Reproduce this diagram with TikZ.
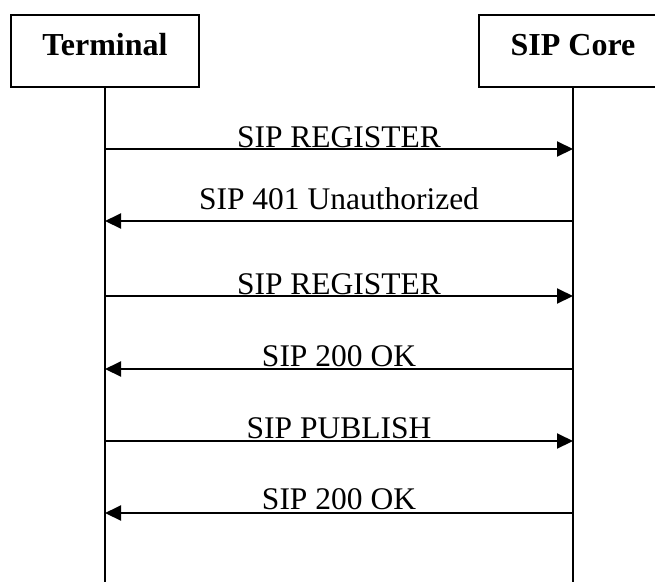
\documentclass[tikz,border=0pt]{standalone}
\usepackage{fontspec}
\setmainfont{Liberation Serif}
\usetikzlibrary{arrows.meta}
\begin{document}
\begin{tikzpicture}[x=1pt,y=-1pt,
	entity/.style={ draw, line width=2pt, minimum width=188pt, minimum height=72pt, inner sep=0pt, text depth=13pt, font=\fontsize{32}{36}\selectfont\bfseries },
	msg/.style={ line width=2pt, -{Triangle[length=16pt,width=15pt]} },
	msgtext/.style={ anchor=base, inner sep=0pt, font=\fontsize{31.5}{36}\selectfont }
]
\useasboundingbox (0,0) rectangle (655,582);

\node at (105,51) (term) [entity] {Terminal};
\node at (573,51) (core) [entity] {SIP Core};

\coordinate (termend) at (105,582);
\coordinate (coreend) at (573,582);
\draw[line width=2pt] (term) to (termend);
\draw[line width=2pt] (core) to (coreend);

% message end points on the lifelines
\coordinate (t1) at (105,149); \coordinate (c1) at (573,149);
\coordinate (t2) at (105,221); \coordinate (c2) at (573,221);
\coordinate (t3) at (105,296); \coordinate (c3) at (573,296);
\coordinate (t4) at (105,369); \coordinate (c4) at (573,369);
\coordinate (t5) at (105,441); \coordinate (c5) at (573,441);
\coordinate (t6) at (105,513); \coordinate (c6) at (573,513);

\draw[msg] (t1) to (c1);
\node at (339,147) (m1) [msgtext] {SIP REGISTER};

\draw[msg] (c2) to (t2);
\node at (339,209) (m2) [msgtext] {SIP 401 Unauthorized};

\draw[msg] (t3) to (c3);
\node at (339,294) (m3) [msgtext] {SIP REGISTER};

\draw[msg] (c4) to (t4);
\node at (339,366) (m4) [msgtext] {SIP 200 OK};

\draw[msg] (t5) to (c5);
\node at (339,438) (m5) [msgtext] {SIP PUBLISH};

\draw[msg] (c6) to (t6);
\node at (339,509) (m6) [msgtext] {SIP 200 OK};

\end{tikzpicture}
\end{document}
